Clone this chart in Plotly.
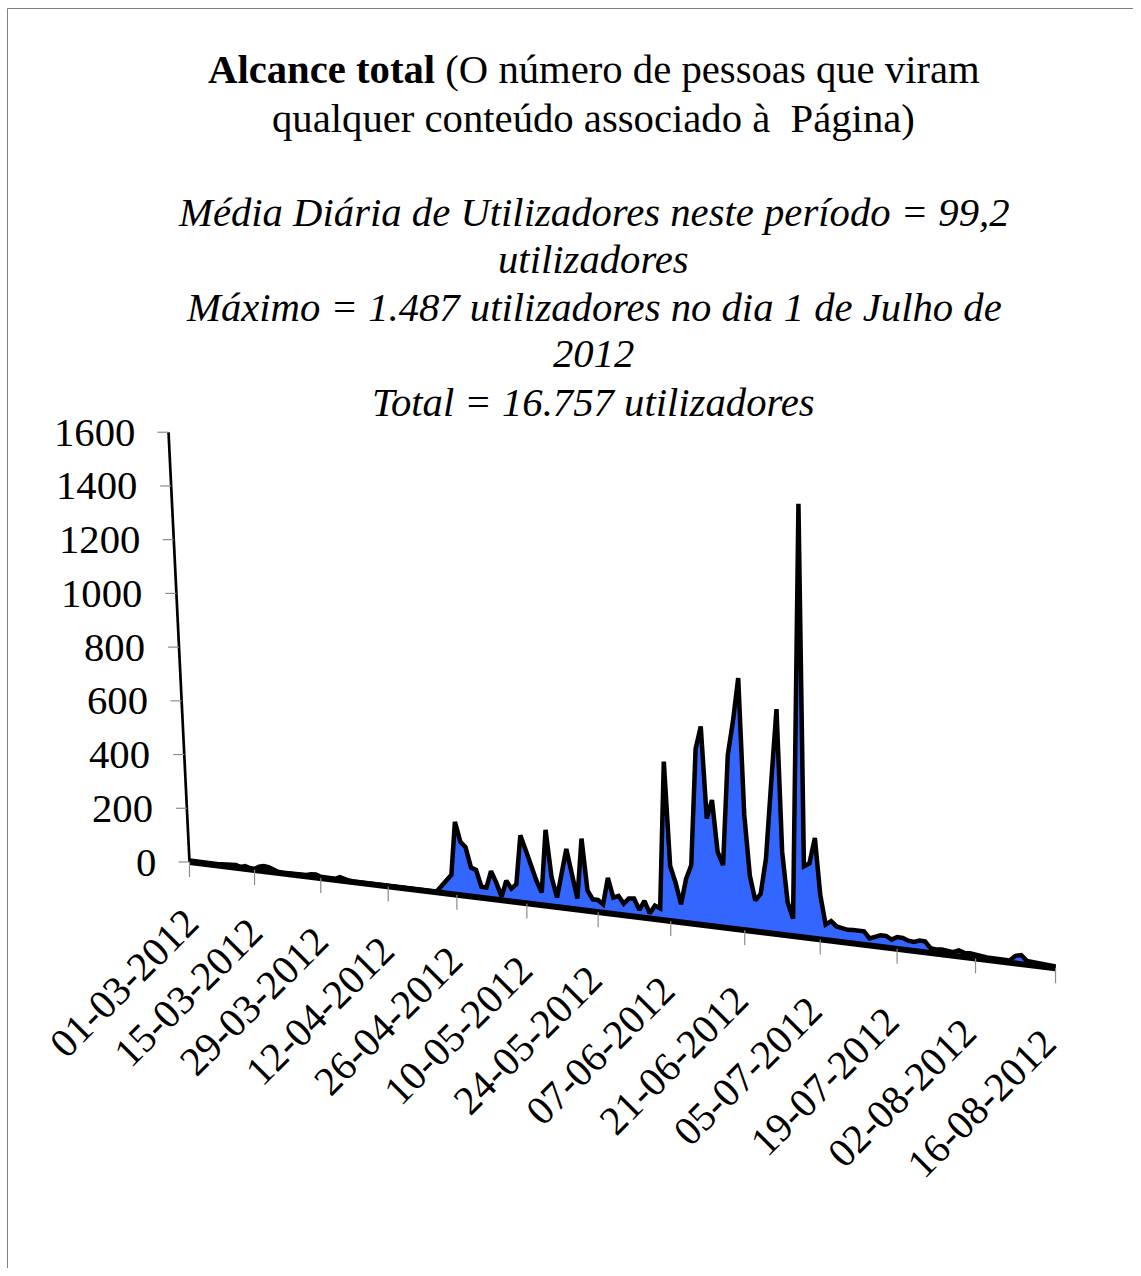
import plotly.graph_objects as go
from datetime import date, timedelta

# Daily total reach of the Page, 1 March - 16 August 2012
reach_mar = [6, 5, 4, 4, 5, 5, 5, 6, 5, 5, 10, 5, 10, 5, 4, 14, 19, 17, 8, 4,
             3, 3, 4, 4, 4, 5, 10, 11, 5, 4, 3]
reach_apr = [4, 12, 6, 3, 2, 2, 1, 1, 1, 1, 0, 0, 0, 1, 1, 0, 0, 0, 1, 1,
             2, 5, 25, 45, 70, 262, 192, 175, 104, 98]
reach_may = [40, 39, 100, 61, 13, 72, 46, 64, 240, 190, 131, 85, 45, 270, 104, 34,
             122, 210, 124, 39, 253, 72, 43, 43, 30, 125, 58, 66, 41, 61, 63]
reach_jun = [26, 59, 18, 47, 40, 555, 192, 136, 63, 154, 203, 610, 690, 372, 438,
             260, 216, 600, 720, 870, 400, 190, 107, 132, 256, 520, 775, 285, 114, 60]
reach_jul = [1487, 244, 256, 345, 152, 53, 67, 51, 46, 44, 46, 46, 46, 24, 30, 39,
             39, 29, 40, 39, 32, 30, 37, 37, 16, 14, 16, 15, 12, 20, 14]
reach_aug = [15, 12, 9, 8, 8, 7, 5, 7, 25, 30, 13, 12, 9, 9, 7, 6]

first_day = date(2012, 3, 1)
date_tick_step = 14
value_ticks = [0, 200, 400, 600, 800, 1000, 1200, 1400, 1600]

title_lines = [
    "<b>Alcance total</b> (O número de pessoas que viram",
    "qualquer conteúdo associado à\u00a0 Página)",
]
stats_lines = [
    "<i>Média Diária de Utilizadores neste período = 99,2</i>",
    "<i>utilizadores</i>",
    "<i>Máximo = 1.487 utilizadores no dia 1 de Julho de</i>",
    "<i>2012</i>",
    "<i>Total = 16.757 utilizadores</i>",
]

reach = reach_mar + reach_apr + reach_may + reach_jun + reach_jul + reach_aug
n_days = len(reach)

# ---- perspective view of the 3-D area chart (screen pixels) ----
W, H = 1141, 1276
ORIGIN_X, ORIGIN_Y = 189.5, 862.0   # front-left corner of the floor
DAY_PX = 4.605                      # width of one day at the left end
DEPTH = 0.000635                    # perspective growth per day
FLOOR_SLOPE = 0.1227                # downward tilt of the floor edge
UNIT_PX = 0.2686                    # pixels per user at the left end
LEAN = 0.0488                       # lean of verticals at the left end
LEAN_REF_X = 800.0                  # screen x where verticals stand upright

FONT = "Liberation Serif, Times New Roman, serif"
TEXT_SIZE = 40.7
AREA_BLUE = "#3366FF"
TICK_GREY = "#8c8c8c"


def project(day, value):
    k = 1.0 / (1.0 - DEPTH * day)
    xb = ORIGIN_X + DAY_PX * day * k
    yb = ORIGIN_Y + FLOOR_SLOPE * (xb - ORIGIN_X)
    h = value * UNIT_PX * k
    lean = -LEAN * (LEAN_REF_X - xb) / (LEAN_REF_X - ORIGIN_X)
    return xb + lean * h, yb - h, k


top = [project(d, v) for d, v in enumerate(reach)]
top_x = [p[0] for p in top]
top_y = [p[1] for p in top]
floor = [project(d, 0) for d in range(n_days)]
floor_x = [p[0] for p in floor]
floor_y = [p[1] for p in floor]

fig = go.Figure()

# filled area
fig.add_trace(go.Scatter(
    x=top_x + floor_x[::-1], y=top_y + floor_y[::-1],
    mode="lines", fill="toself", fillcolor=AREA_BLUE,
    line=dict(width=0), hoverinfo="skip"))

# floor edge
fig.add_trace(go.Scatter(
    x=[floor_x[0], floor_x[-1]], y=[floor_y[0], floor_y[-1]],
    mode="lines", line=dict(color="black", width=6), hoverinfo="skip"))

# outline of the series
fig.add_trace(go.Scatter(
    x=top_x, y=top_y, mode="lines",
    line=dict(color="black", width=4.5), hoverinfo="skip"))

# value axis
ax0 = project(0, value_ticks[0])
ax1 = project(0, value_ticks[-1])
fig.add_trace(go.Scatter(
    x=[ax0[0], ax1[0]], y=[ax0[1], ax1[1]], mode="lines",
    line=dict(color="black", width=2.7), hoverinfo="skip"))

tx, ty = [], []
for v in value_ticks:
    px, py, _ = project(0, v)
    tx += [px - 11, px, None]
    ty += [py, py, None]
for d in range(0, n_days, date_tick_step):
    px, py, _ = project(d, 0)
    tx += [px, px, None]
    ty += [py, py + 15, None]
fig.add_trace(go.Scatter(
    x=tx, y=ty, mode="lines", line=dict(color=TICK_GREY, width=1.2),
    hoverinfo="skip"))

annotations = []
for v in value_ticks:
    px, py, _ = project(0, v)
    annotations.append(dict(
        x=px - 32, y=py, xref="x", yref="y", text=str(v), showarrow=False,
        xanchor="right", yanchor="middle",
        font=dict(family=FONT, size=TEXT_SIZE, color="black")))

for d in range(0, n_days, date_tick_step):
    px, py, k = project(d, 0)
    label = (first_day + timedelta(days=d)).strftime("%d-%m-%Y")
    annotations.append(dict(
        x=px - 66 * k, y=py + 121 * k, xref="x", yref="y", text=label,
        showarrow=False, textangle=-45, xanchor="center", yanchor="middle",
        font=dict(family=FONT, size=TEXT_SIZE, color="black")))

CENTER_X = 593.5
for line, yc in zip(title_lines, [69.5, 118.0]):
    annotations.append(dict(
        x=CENTER_X, y=yc, xref="x", yref="y", text=line, showarrow=False,
        xanchor="center", yanchor="middle",
        font=dict(family=FONT, size=TEXT_SIZE, color="black")))
for line, yc in zip(stats_lines, [212.8, 259.6, 307.0, 353.2, 402.6]):
    annotations.append(dict(
        x=CENTER_X, y=yc, xref="x", yref="y", text=line, showarrow=False,
        xanchor="center", yanchor="middle",
        font=dict(family=FONT, size=TEXT_SIZE, color="black")))

shapes = [
    dict(type="line", xref="x", yref="y", x0=7.5, y0=8.5, x1=1133, y1=8.5,
         line=dict(color="#808080", width=1)),
    dict(type="line", xref="x", yref="y", x0=7.5, y0=8.5, x1=7.5, y1=1268,
         line=dict(color="#808080", width=1)),
]

fig.update_layout(
    width=W, height=H, margin=dict(l=0, r=0, t=0, b=0),
    paper_bgcolor="white", plot_bgcolor="white", showlegend=False,
    xaxis=dict(range=[0, W], visible=False, fixedrange=True),
    yaxis=dict(range=[H, 0], visible=False, fixedrange=True),
    annotations=annotations, shapes=shapes,
)

fig.write_html("out.html")
